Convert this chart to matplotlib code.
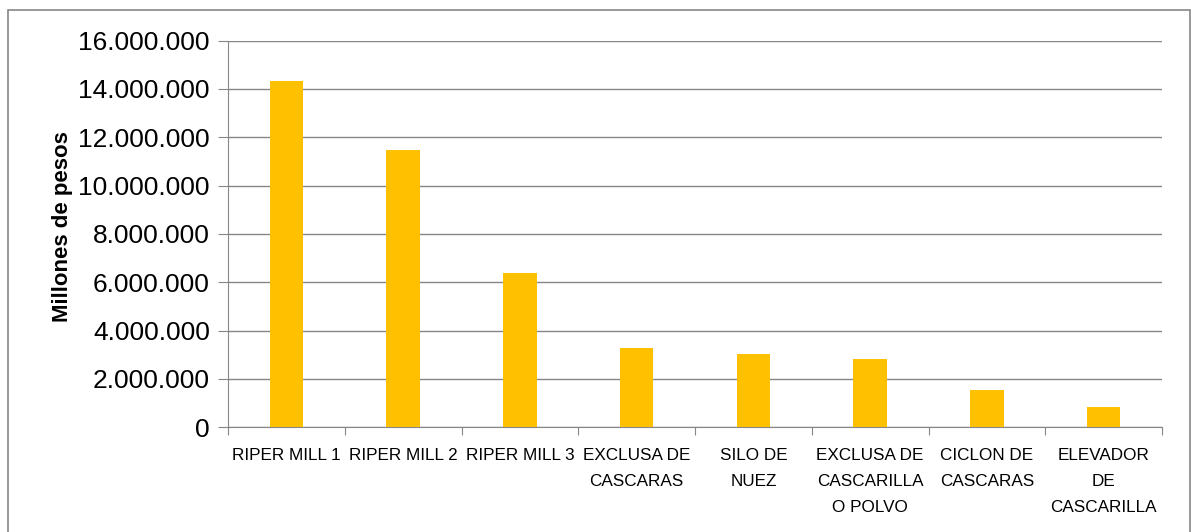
import matplotlib
matplotlib.use("Agg")
import matplotlib.pyplot as plt
from matplotlib.patches import Rectangle
from matplotlib.ticker import FuncFormatter, MultipleLocator

categories = ["RIPER MILL 1", "RIPER MILL 2", "RIPER MILL 3", "EXCLUSA DE\nCASCARAS",
              "SILO DE\nNUEZ", "EXCLUSA DE\nCASCARILLA\nO POLVO", "CICLON DE\nCASCARAS",
              "ELEVADOR\nDE\nCASCARILLA"]
costs = [14310000, 11460000, 6400000, 3290000, 3020000, 2820000, 1560000, 840000]

plt.rcParams["font.family"] = ["Liberation Sans", "DejaVu Sans"]

fig = plt.figure(figsize=(11.91, 5.32), dpi=100)
ax = fig.add_axes([228 / 1191, 1 - 427.3 / 532, 934 / 1191, 386.8 / 532])

# outer chart border
fig.patches.append(Rectangle((8 / 1191, -0.05), 1182 / 1191, 1 - 10 / 532 + 0.05,
                             transform=fig.transFigure, fill=False,
                             edgecolor="#868686", linewidth=1.2))

x = range(len(categories))
ax.bar(x, costs, width=0.286, color="#FFC000", zorder=3)

ax.set_xlim(-0.5, len(categories) - 0.5)
ax.set_ylim(0, 16000000)
ax.yaxis.set_major_locator(MultipleLocator(2000000))
ax.yaxis.set_major_formatter(FuncFormatter(lambda v, p: f"{int(v):,}".replace(",", ".")))
ax.grid(axis="y", color="#868686", linewidth=1, zorder=0)

ax.set_xticks([i - 0.5 for i in range(len(categories) + 1)], minor=False)
ax.set_xticklabels([])
ax.set_xticks(list(x), minor=True)
ax.set_xticklabels(categories, minor=True, fontsize=12.3, linespacing=1.9, va="top")
ax.tick_params(axis="x", which="minor", length=0, pad=15)
ax.tick_params(axis="x", which="major", length=6, color="#868686")
ax.tick_params(axis="y", length=7, color="#868686", labelsize=19, pad=6)

for side in ["top", "right"]:
    ax.spines[side].set_visible(False)
for side in ["left", "bottom"]:
    ax.spines[side].set_color("#868686")

ax.set_ylabel("Millones de pesos", fontsize=16, fontweight="bold")
ax.yaxis.set_label_coords(-0.166, 0.52)

fig.savefig("out.png", dpi=100)
